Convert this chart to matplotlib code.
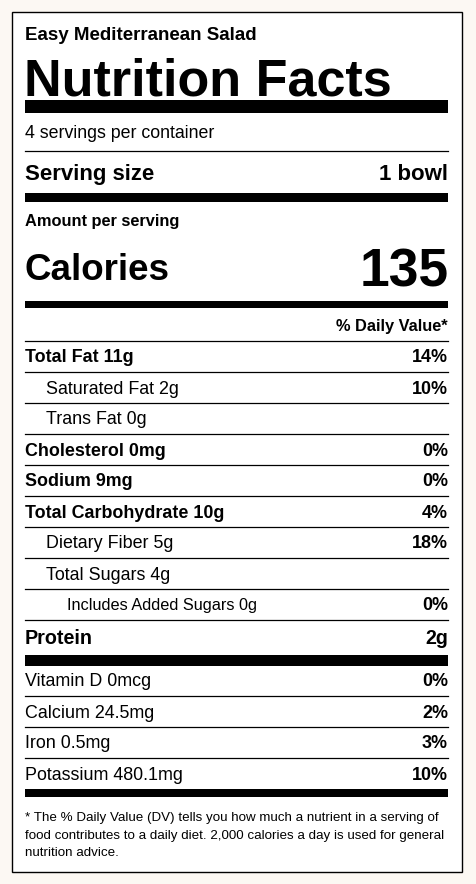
import matplotlib
matplotlib.use("Agg")
import matplotlib.pyplot as plt
from matplotlib.patches import Rectangle

plt.rcParams['font.family'] = ['Liberation Sans', 'DejaVu Sans']

title = "Easy Mediterranean Salad"
servings = "4 servings per container"
serving_size = "1 bowl"
calories = "135"

# (label, daily value, bold, indent level)
rows = [
    ("Total Fat 11g", "14%", True, 0),
    ("Saturated Fat 2g", "10%", False, 1),
    ("Trans Fat 0g", "", False, 1),
    ("Cholesterol 0mg", "0%", True, 0),
    ("Sodium 9mg", "0%", True, 0),
    ("Total Carbohydrate 10g", "4%", True, 0),
    ("Dietary Fiber 5g", "18%", False, 1),
    ("Total Sugars 4g", "", False, 1),
    ("Includes Added Sugars 0g", "0%", False, 2),
]
vitamins = [
    ("Vitamin D 0mcg", "0%"),
    ("Calcium 24.5mg", "2%"),
    ("Iron 0.5mg", "3%"),
    ("Potassium 480.1mg", "10%"),
]
footnote = ["* The % Daily Value (DV) tells you how much a nutrient in a serving of",
            "food contributes to a daily diet. 2,000 calories a day is used for general",
            "nutrition advice."]

fig = plt.figure(figsize=(4.77, 8.84), dpi=100)
fig.patch.set_facecolor('#fcf8f3')
ax = fig.add_axes([0, 0, 1, 1])
ax.set_xlim(0, 477)
ax.set_ylim(884, 0)
ax.axis('off')

ax.add_patch(Rectangle((12, 12), 450, 860, facecolor='white', edgecolor='black', lw=1))

L, R = 25, 448

def bar(y0, y1):
    ax.add_patch(Rectangle((L, y0), R - L, y1 - y0, facecolor='black', lw=0))

def line(y):
    ax.plot([L, R], [y, y], color='black', lw=0.9)

def txt(x, y, s, size, bold=False, ha='left'):
    ax.text(x, y, s, fontsize=size, fontweight='bold' if bold else 'normal',
            ha=ha, va='center_baseline', color='black')

txt(L, 33, title, 13.5, True)
txt(L - 1, 77, "Nutrition Facts", 37.5, True)
bar(100, 113)
txt(L, 132, servings, 12.8)
line(151)
txt(L, 172, "Serving size", 16, True)
txt(R, 172, serving_size, 16, True, 'right')
bar(193, 202)
txt(L, 220, "Amount per serving", 11.8, True)
txt(L, 267, "Calories", 26.5, True)
txt(R + 1, 267, calories, 38.5, True, 'right')
bar(301, 308)
txt(R, 325, "% Daily Value*", 11.8, True, 'right')
line(341)

y = 356
for i, (lab, dv, b, ind) in enumerate(rows):
    txt(L + 21 * ind, y, lab, 12.9 if ind < 2 else 11.7, b)
    if dv:
        txt(R, y, dv, 12.9, True, 'right')
    line(y + 16)
    y += 31

txt(L, 637, "Protein", 14.2, True)
txt(R, 637, "2g", 14.2, True, 'right')
bar(655, 666)

y = 680
for i, (lab, dv) in enumerate(vitamins):
    txt(L, y, lab, 12.9)
    txt(R, y, dv, 12.9, True, 'right')
    if i < len(vitamins) - 1:
        line(y + 16)
    y += 31
bar(789, 797)

for i, s in enumerate(footnote):
    txt(L, 816 + 18 * i, s, 9.6)

fig.savefig("out.png", dpi=100, facecolor=fig.get_facecolor())
